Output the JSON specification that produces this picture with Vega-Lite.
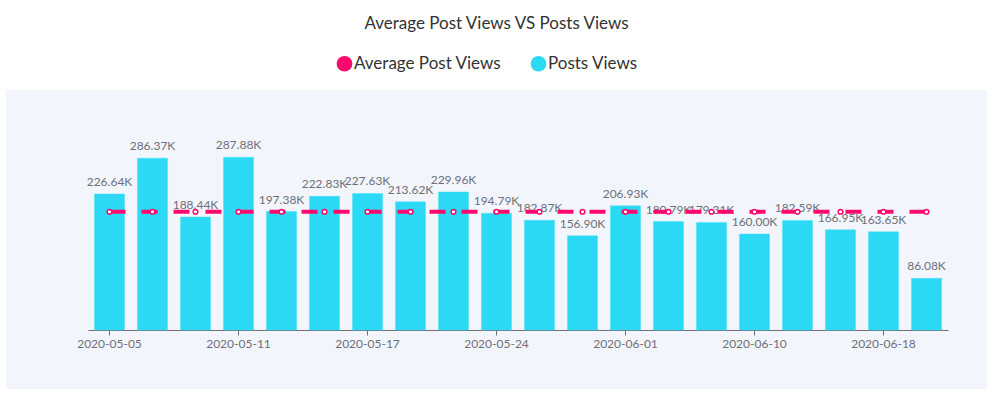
{
  "$schema": "https://vega.github.io/schema/vega-lite/v6.json",
  "width": 981,
  "height": 299,
  "autosize": {"type": "none"},
  "padding": {"left": 6, "top": 90, "right": 6, "bottom": 5},
  "background": "#ffffff",
  "title": {
    "text": "Average Post Views VS Posts Views",
    "fontSize": 17,
    "fontWeight": "normal",
    "color": "#333333",
    "font": "Lato",
    "anchor": "middle",
    "frame": "bounds",
    "offset": 22
  },
  "config": {
    "view": {"fill": "#f2f5fc", "stroke": null},
    "font": "Lato",
    "locale": {
      "number": {
        "decimal": ".",
        "thousands": ",",
        "grouping": [3],
        "currency": ["", "K"]
      }
    }
  },
  "data": {
    "values": [
      {"date": "2020-05-05", "views": 226.64, "avg": 197.08},
      {"date": "2020-05-07", "views": 286.37, "avg": 197.08},
      {"date": "2020-05-09", "views": 188.44, "avg": 197.08},
      {"date": "2020-05-11", "views": 287.88, "avg": 197.08},
      {"date": "2020-05-13", "views": 197.38, "avg": 197.08},
      {"date": "2020-05-15", "views": 222.83, "avg": 197.08},
      {"date": "2020-05-17", "views": 227.63, "avg": 197.08},
      {"date": "2020-05-19", "views": 213.62, "avg": 197.08},
      {"date": "2020-05-21", "views": 229.96, "avg": 197.08},
      {"date": "2020-05-24", "views": 194.79, "avg": 197.08},
      {"date": "2020-05-26", "views": 182.87, "avg": 197.08},
      {"date": "2020-05-29", "views": 156.90, "avg": 197.08},
      {"date": "2020-06-01", "views": 206.93, "avg": 197.08},
      {"date": "2020-06-04", "views": 180.79, "avg": 197.08},
      {"date": "2020-06-07", "views": 179.31, "avg": 197.08},
      {"date": "2020-06-10", "views": 160.00, "avg": 197.08},
      {"date": "2020-06-13", "views": 182.59, "avg": 197.08},
      {"date": "2020-06-15", "views": 166.95, "avg": 197.08},
      {"date": "2020-06-18", "views": 163.65, "avg": 197.08},
      {"date": "2020-06-21", "views": 86.08, "avg": 197.08}
    ]
  },
  "encoding": {
    "x": {
      "field": "date",
      "type": "nominal",
      "sort": null,
      "scale": {"range": [82, 942], "paddingInner": 0.3, "paddingOuter": 0.15},
      "axis": {
        "title": null,
        "labelAngle": 0,
        "values": ["2020-05-05", "2020-05-11", "2020-05-17", "2020-05-24", "2020-06-01", "2020-06-10", "2020-06-18"],
        "offset": -59,
        "domainColor": "#6e7079",
        "tickColor": "#6e7079",
        "tickSize": 5,
        "labelColor": "#6e7079",
        "labelFontSize": 12,
        "labelPadding": 3,
        "grid": false
      }
    }
  },
  "layer": [
    {
      "mark": {"type": "bar", "stroke": "#4fe3f8", "strokeWidth": 0.5},
      "encoding": {
        "y": {"field": "views", "type": "quantitative", "scale": {"domain": [0, 300], "range": [240, 60]}, "axis": null},
        "color": {
          "datum": "Posts Views",
          "type": "nominal",
          "scale": {"domain": ["Average Post Views", "Posts Views"], "range": ["#ff0a6c", "#2cd9f5"]},
          "legend": {
            "title": null,
            "orient": "none",
            "legendX": 330,
            "legendY": -35,
            "direction": "horizontal",
            "symbolType": "circle",
            "symbolSize": 246,
            "symbolStrokeWidth": 0,
            "symbolOpacity": 1,
            "labelFontSize": 17,
            "labelColor": "#333333",
            "labelOffset": 1,
            "columnPadding": 28
          }
        }
      }
    },
    {
      "mark": {"type": "text", "baseline": "bottom", "dy": -5, "fontSize": 12, "color": "#6e7079"},
      "encoding": {
        "y": {"field": "views", "type": "quantitative"},
        "text": {"field": "views", "type": "quantitative", "format": "$.2f"}
      }
    },
    {
      "mark": {"type": "line", "strokeDash": [16, 16], "strokeWidth": 4},
      "encoding": {
        "y": {"field": "avg", "type": "quantitative"},
        "color": {"datum": "Average Post Views", "type": "nominal"}
      }
    },
    {
      "mark": {"type": "point", "filled": true, "fill": "#ffffff", "stroke": "#ff0a6c", "strokeWidth": 1.5, "size": 22, "opacity": 1},
      "encoding": {
        "y": {"field": "avg", "type": "quantitative"}
      }
    }
  ]
}
